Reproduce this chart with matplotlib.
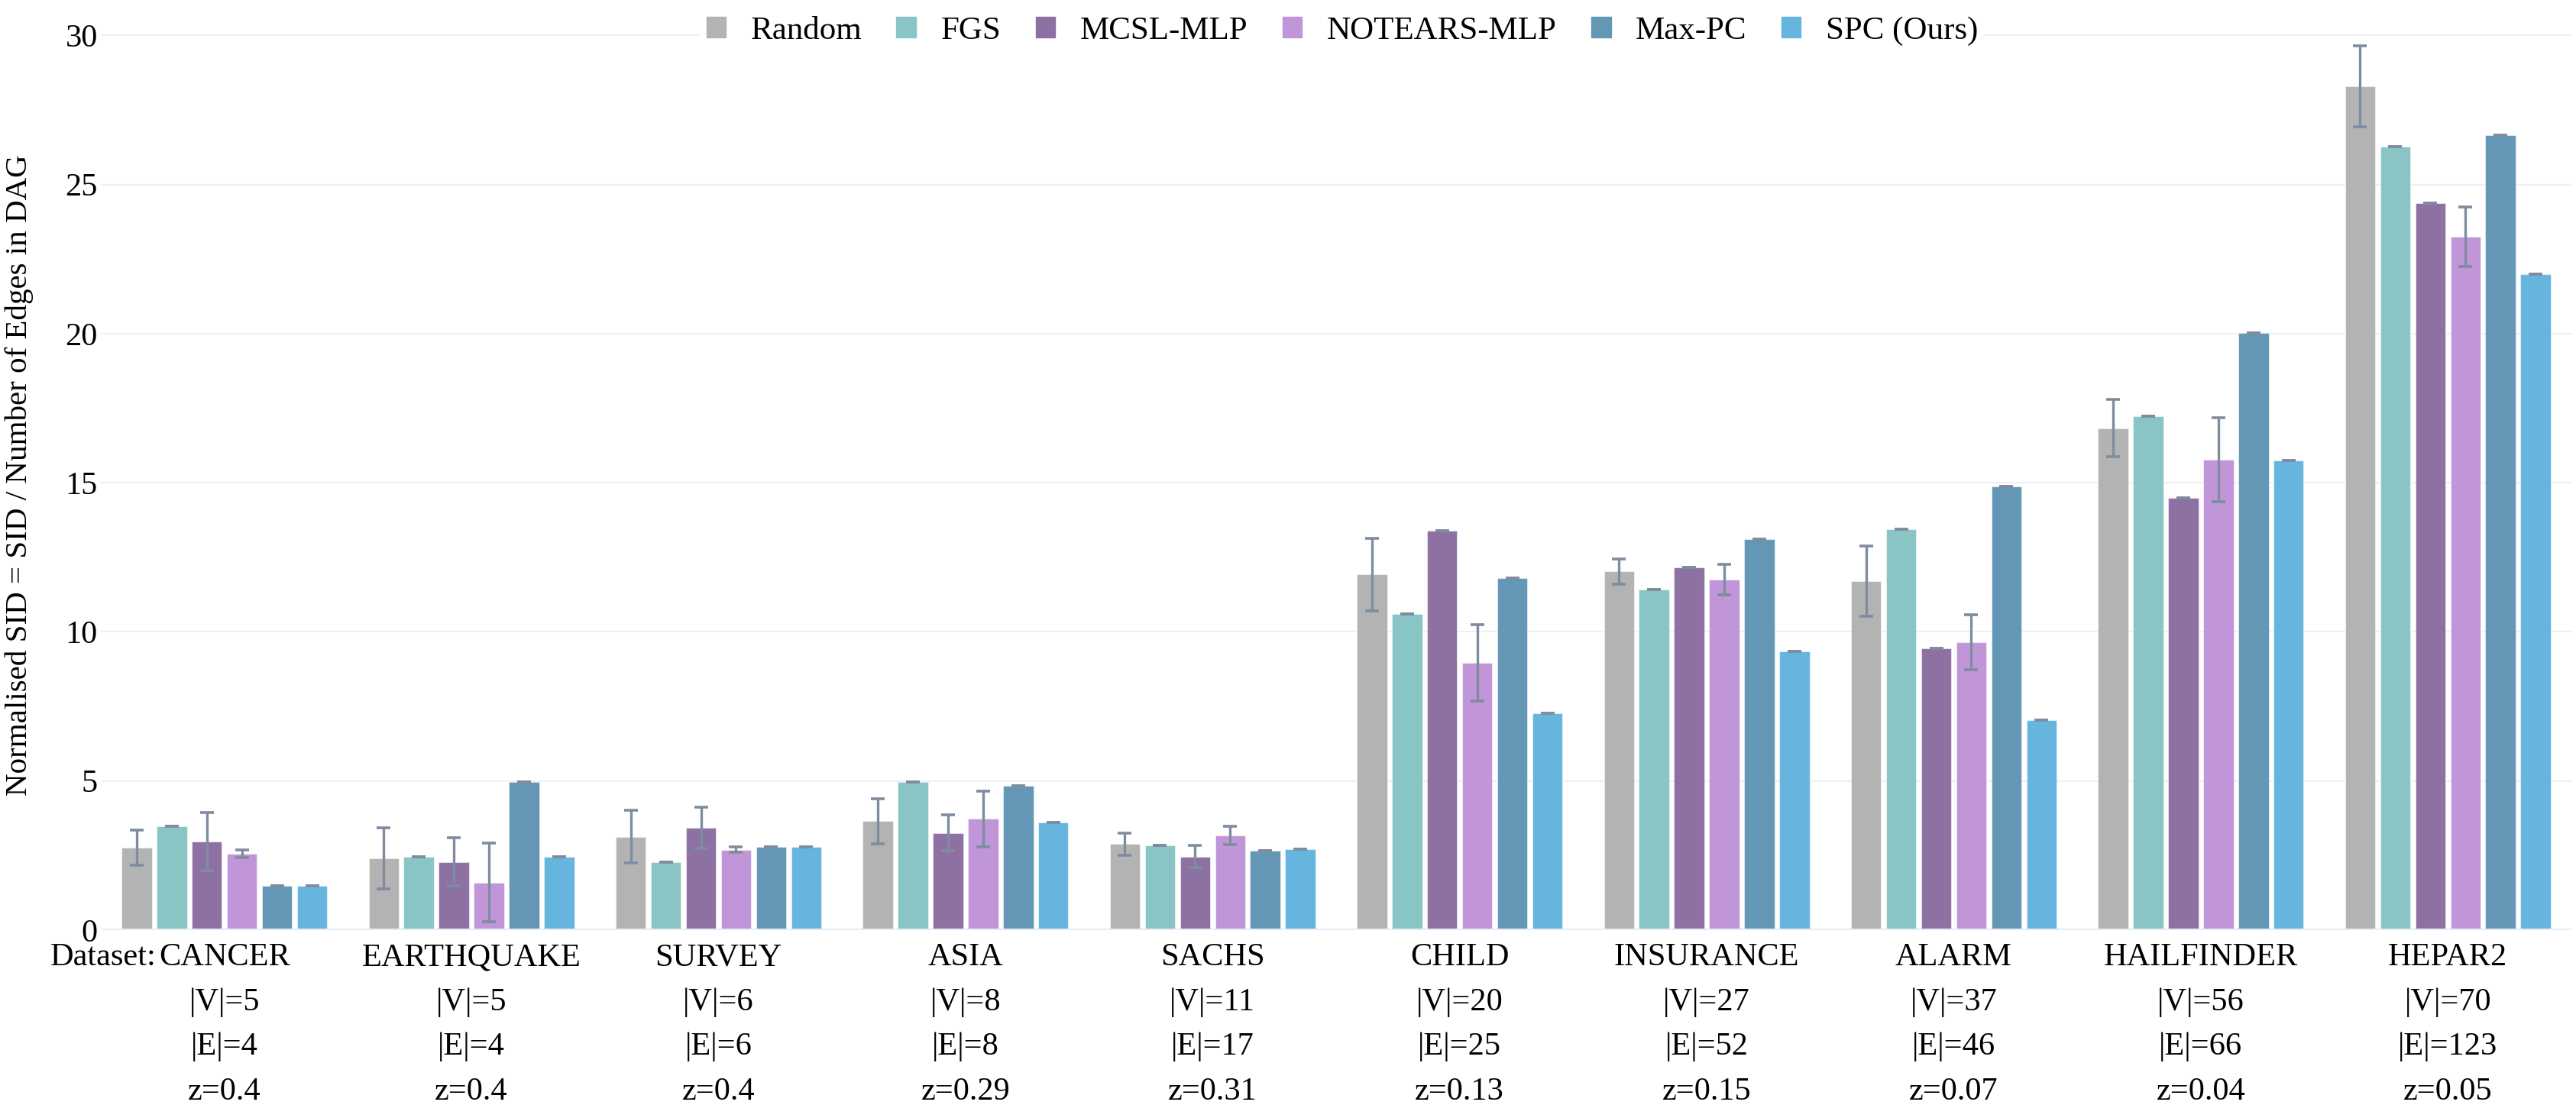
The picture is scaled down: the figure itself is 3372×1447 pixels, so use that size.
import matplotlib.pyplot as plt
import matplotlib.patches as mpatches
import numpy as np

# Data
datasets = ['CANCER', 'EARTHQUAKE', 'SURVEY', 'ASIA', 'SACHS',
            'CHILD', 'INSURANCE', 'ALARM', 'HAILFINDER', 'HEPAR2']
n_vertices = [5, 5, 6, 8, 11, 20, 27, 37, 56, 70]
n_edges = [4, 4, 6, 8, 17, 25, 52, 46, 66, 123]
z_values = ['0.4', '0.4', '0.4', '0.29', '0.31', '0.13', '0.15', '0.07', '0.04', '0.05']

methods = ['Random', 'FGS', 'MCSL-MLP', 'NOTEARS-MLP', 'Max-PC', 'SPC (Ours)']

random_mean = [2.76, 2.41, 3.13, 3.65, 2.89, 11.92, 12.02, 11.71, 16.83, 28.29]
random_err = [0.59, 1.03, 0.88, 0.75, 0.37, 1.22, 0.43, 1.18, 0.96, 1.35]
fgs_mean = [3.48, 2.46, 2.29, 4.97, 2.84, 10.59, 11.42, 13.45, 17.22, 26.26]
fgs_err = [0, 0, 0, 0, 0, 0, 0, 0, 0, 0]
mcsl_mean = [2.97, 2.29, 3.44, 3.26, 2.46, 13.39, 12.15, 9.45, 14.49, 24.36]
mcsl_err = [0.98, 0.80, 0.69, 0.60, 0.37, 0, 0, 0, 0, 0]
notears_mean = [2.55, 1.59, 2.70, 3.73, 3.18, 8.96, 11.75, 9.66, 15.77, 23.25]
notears_err = [0.13, 1.32, 0.10, 0.94, 0.30, 1.27, 0.51, 0.92, 1.40, 1.00]
maxpc_mean = [1.48, 4.97, 2.79, 4.85, 2.66, 11.80, 13.10, 14.88, 20.03, 26.65]
maxpc_err = [0, 0, 0, 0, 0, 0, 0, 0, 0, 0]
spc_mean = [1.48, 2.46, 2.79, 3.60, 2.72, 7.26, 9.35, 7.04, 15.74, 21.98]
spc_err = [0, 0, 0, 0, 0, 0, 0, 0, 0, 0]

means = [random_mean, fgs_mean, mcsl_mean, notears_mean, maxpc_mean, spc_mean]
errors = [random_err, fgs_err, mcsl_err, notears_err, maxpc_err, spc_err]

# Styles
colours = ['#b3b3b3', '#88c5c4', '#8e71a3', '#c096d9', '#6497b5', '#66b5de']
err_colour = '#7f8ca0'
grid_colour = '#ebf0f8'
font_tick = 30.5
font_legend = 31
font_label = 29.5

plt.rcParams['font.family'] = ['Liberation Serif', 'DejaVu Serif']

W, H, DPI = 3372, 1447, 100
fig = plt.figure(figsize=(W / DPI, H / DPI), dpi=DPI)

# axes placement in pixels
y_zero = 1218
px_per_unit = 39.06
y_top_val = 30.6
left, right = 132, 3366
top_px = y_zero - y_top_val * px_per_unit
ax = fig.add_axes([left / W, (H - y_zero) / H, (right - left) / W, (y_zero - top_px) / H])

x = np.arange(len(datasets))
stride = 0.142
width = 0.122
for i, name in enumerate(methods):
    xpos = x + (i - 2.5) * stride
    ax.bar(xpos, means[i], width=width, color=colours[i], edgecolor=(1, 1, 1, 0.5),
           linewidth=0.8, zorder=2, label=name)
    ax.errorbar(xpos, means[i], yerr=errors[i], fmt='none', ecolor=err_colour,
                elinewidth=2.4, capsize=6.5, capthick=2.6, zorder=4)

ax.axhline(0, color='#e5ecf6', linewidth=3, zorder=3)
ax.set_xlim(-0.5, len(datasets) - 0.5)
ax.set_ylim(0, y_top_val)
ax.set_yticks([0, 5, 10, 15, 20, 25, 30])
ax.yaxis.grid(True, color=grid_colour, linewidth=1.5, zorder=0)
ax.set_axisbelow(True)
for s in ax.spines.values():
    s.set_visible(False)

tick_labels = ['%s\n|V|=%d\n|E|=%d\nz=%s' % (d, v, e, zz)
               for d, v, e, zz in zip(datasets, n_vertices, n_edges, z_values)]
ax.set_xticks(x)
ax.set_xticklabels(tick_labels, fontsize=font_tick, linespacing=1.68)
ax.tick_params(axis='x', length=0, pad=12)
ax.tick_params(axis='y', length=0, pad=3, labelsize=font_tick)

fig.text(25 / W, (H - 622) / H, 'Normalised SID = SID / Number of Edges in DAG',
         rotation=90, ha='center', va='center', fontsize=font_label)

# "Dataset:" prefix just left of the first category name
fig.canvas.draw()
renderer = fig.canvas.get_renderer()
bb = ax.get_xticklabels()[0].get_window_extent(renderer)
fig.text((bb.x0 - 3) / W, bb.y1 / H, 'Dataset:', ha='right', va='top', fontsize=font_tick)

handles = [mpatches.Patch(color=c, label=m) for c, m in zip(colours, methods)]
leg = fig.legend(handles=handles, loc='center', bbox_to_anchor=(0.521, 0.972),
                 ncol=6, fontsize=font_legend, frameon=True, facecolor='white',
                 edgecolor='none', framealpha=1, handlelength=0.6, handleheight=0.6,
                 handletextpad=0.75, columnspacing=1.05, borderpad=0.2)

plt.savefig('out.png', dpi=DPI)
